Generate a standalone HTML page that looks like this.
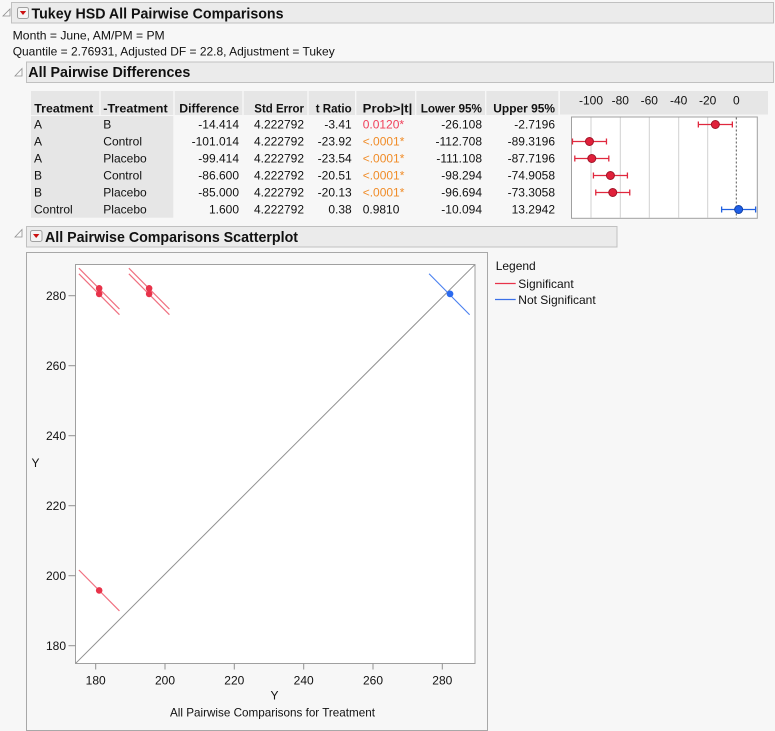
<!DOCTYPE html>
<html><head><meta charset="utf-8"><style>
html,body{margin:0;padding:0;background:#f7f7f7;width:775px;height:731px;overflow:hidden}
svg{display:block}
text{font-family:"Liberation Sans",Arial,sans-serif;fill:#111}
.b{font-weight:bold}
</style></head><body>
<svg width="775" height="731" viewBox="0 0 775 731" xmlns="http://www.w3.org/2000/svg">
<rect width="775" height="731" fill="#f7f7f7"/>
<!-- Title bar -->
<rect x="11.5" y="2.5" width="762" height="20.5" fill="#ebebeb" stroke="#c0c0c0"/>
<polygon points="10,9 10,16 3,16" fill="#fafafa" stroke="#909090" stroke-width="0.8"/>
<rect x="17.5" y="7.5" width="11" height="11" rx="2" fill="#f4f4f4" stroke="#a0a0a0"/>
<polygon points="19.8,11 26.2,11 23,15" fill="#cc1111"/>
<text x="31.5" y="18.5" class="b" font-size="15" textLength="252" lengthAdjust="spacingAndGlyphs">Tukey HSD All Pairwise Comparisons</text>
<text x="12.7" y="39.5" font-size="12" textLength="152" lengthAdjust="spacingAndGlyphs">Month = June, AM/PM = PM</text>
<text x="12.7" y="55.5" font-size="12" textLength="322" lengthAdjust="spacingAndGlyphs">Quantile = 2.76931, Adjusted DF = 22.8, Adjustment = Tukey</text>
<!-- All pairwise differences bar -->
<rect x="26.5" y="62" width="747" height="20.5" fill="#ebebeb" stroke="#c0c0c0"/>
<polygon points="22,68.5 22,76 15,76" fill="#fafafa" stroke="#909090" stroke-width="0.8"/>
<text x="28.3" y="77" class="b" font-size="15" textLength="162" lengthAdjust="spacingAndGlyphs">All Pairwise Differences</text>
<!-- table header -->
<g fill="#e6e6e6">
<rect x="31" y="91" width="68.3" height="24"/>
<rect x="100.7" y="91" width="72.6" height="24"/>
<rect x="174.7" y="91" width="67.6" height="24"/>
<rect x="243.7" y="91" width="63.6" height="24"/>
<rect x="308.7" y="91" width="46.3" height="24"/>
<rect x="356.4" y="91" width="58.6" height="24"/>
<rect x="416.4" y="91" width="68.6" height="24"/>
<rect x="486.4" y="91" width="71.9" height="24"/>
<rect x="560" y="91" width="208" height="23.5"/>
<rect x="31" y="116" width="142.3" height="101.7"/>
</g>
<g font-size="12" class="b">
<text x="34.3" y="112.5" class="b" textLength="59" lengthAdjust="spacingAndGlyphs">Treatment</text>
<text x="103.3" y="112.5" class="b" textLength="64.4" lengthAdjust="spacingAndGlyphs">-Treatment</text>
<text x="179.3" y="112.5" class="b" textLength="59.7" lengthAdjust="spacingAndGlyphs">Difference</text>
<text x="254.3" y="112.5" class="b" textLength="49.7" lengthAdjust="spacingAndGlyphs">Std Error</text>
<text x="315.7" y="112.5" class="b" textLength="36" lengthAdjust="spacingAndGlyphs">t Ratio</text>
<text x="362.7" y="112.5" class="b" textLength="49.6" lengthAdjust="spacingAndGlyphs">Prob&gt;|t|</text>
<text x="420.7" y="112.5" class="b" textLength="61.3" lengthAdjust="spacingAndGlyphs">Lower 95%</text>
<text x="493.3" y="112.5" class="b" textLength="61.7" lengthAdjust="spacingAndGlyphs">Upper 95%</text>
</g>
<!-- table body -->
<g font-size="12">
<text x="34" y="128.5">A</text><text x="103.3" y="128.5">B</text>
<text x="34" y="145.5">A</text><text x="103.3" y="145.5">Control</text>
<text x="34" y="162.5">A</text><text x="103.3" y="162.5">Placebo</text>
<text x="34" y="179.5">B</text><text x="103.3" y="179.5">Control</text>
<text x="34" y="196.5">B</text><text x="103.3" y="196.5">Placebo</text>
<text x="34" y="213.5">Control</text><text x="103.3" y="213.5">Placebo</text>
<g text-anchor="end">
<text x="239" y="128.5">-14.414</text><text x="239" y="145.5">-101.014</text><text x="239" y="162.5">-99.414</text><text x="239" y="179.5">-86.600</text><text x="239" y="196.5">-85.000</text><text x="239" y="213.5">1.600</text>
<text x="304" y="128.5">4.222792</text><text x="304" y="145.5">4.222792</text><text x="304" y="162.5">4.222792</text><text x="304" y="179.5">4.222792</text><text x="304" y="196.5">4.222792</text><text x="304" y="213.5">4.222792</text>
<text x="351.7" y="128.5">-3.41</text><text x="351.7" y="145.5">-23.92</text><text x="351.7" y="162.5">-23.54</text><text x="351.7" y="179.5">-20.51</text><text x="351.7" y="196.5">-20.13</text><text x="351.7" y="213.5">0.38</text>
<text x="482" y="128.5">-26.108</text><text x="482" y="145.5">-112.708</text><text x="482" y="162.5">-111.108</text><text x="482" y="179.5">-98.294</text><text x="482" y="196.5">-96.694</text><text x="482" y="213.5">-10.094</text>
<text x="555" y="128.5">-2.7196</text><text x="555" y="145.5">-89.3196</text><text x="555" y="162.5">-87.7196</text><text x="555" y="179.5">-74.9058</text><text x="555" y="196.5">-73.3058</text><text x="555" y="213.5">13.2942</text>
</g>
<text x="362.7" y="128.5" style="fill:#f0405a">0.0120*</text>
<text x="362.7" y="145.5" style="fill:#f08c28">&lt;.0001*</text>
<text x="362.7" y="162.5" style="fill:#f08c28">&lt;.0001*</text>
<text x="362.7" y="179.5" style="fill:#f08c28">&lt;.0001*</text>
<text x="362.7" y="196.5" style="fill:#f08c28">&lt;.0001*</text>
<text x="362.7" y="213.5">0.9810</text>
</g>
<!-- small difference chart -->
<g font-size="12" text-anchor="middle">
<text x="591" y="104.5">-100</text><text x="620.3" y="104.5">-80</text><text x="649.3" y="104.5">-60</text><text x="678.7" y="104.5">-40</text><text x="707.7" y="104.5">-20</text><text x="736.3" y="104.5">0</text>
</g>
<rect x="571.5" y="117" width="185.8" height="101.3" fill="#fff" stroke="#a0a0a0"/>
<g stroke="#d0d0d0" stroke-width="1">
<line x1="591" y1="117.5" x2="591" y2="218"/><line x1="620.3" y1="117.5" x2="620.3" y2="218"/><line x1="649.3" y1="117.5" x2="649.3" y2="218"/><line x1="678.7" y1="117.5" x2="678.7" y2="218"/><line x1="707.7" y1="117.5" x2="707.7" y2="218"/>
</g>
<line x1="736.3" y1="117.5" x2="736.3" y2="218" stroke="#555" stroke-dasharray="2,2"/>
<g stroke="#e0283e" stroke-width="1.3" fill="none">
<path d="M698.35 124.5H732.35M698.35 121.5V127.5M732.35 121.5V127.5"/>
<path d="M572.48 141.5H606.47M572.48 138.5V144.5M606.47 138.5V144.5"/>
<path d="M574.8 158.5H608.8M574.8 155.5V161.5M608.8 155.5V161.5"/>
<path d="M593.43 175.5H627.42M593.43 172.5V178.5M627.42 172.5V178.5"/>
<path d="M595.76 192.5H629.75M595.76 189.5V195.5M629.75 189.5V195.5"/>
</g>
<path d="M721.63 209.5H755.62M721.63 206.5V212.5M755.62 206.5V212.5" stroke="#2060e0" stroke-width="1.3" fill="none"/>
<g fill="#e0203a" stroke="#a01428" stroke-width="1">
<circle cx="715.35" cy="124.5" r="4"/><circle cx="589.48" cy="141.5" r="4"/><circle cx="591.8" cy="158.5" r="4"/><circle cx="610.43" cy="175.5" r="4"/><circle cx="612.75" cy="192.5" r="4"/>
</g>
<circle cx="738.63" cy="209.5" r="4" fill="#1f5fe6" stroke="#1040a8"/>
<!-- Scatterplot bar -->
<rect x="26.5" y="226.5" width="590.5" height="20.5" fill="#ebebeb" stroke="#c0c0c0"/>
<polygon points="22,229.5 22,237 15,237" fill="#fafafa" stroke="#909090" stroke-width="0.8"/>
<rect x="30.5" y="230.5" width="11.5" height="11" rx="2" fill="#f4f4f4" stroke="#a0a0a0"/>
<polygon points="33,234 39.4,234 36.2,238" fill="#cc1111"/>
<text x="45" y="242" class="b" font-size="15" textLength="253" lengthAdjust="spacingAndGlyphs">All Pairwise Comparisons Scatterplot</text>
<!-- scatter panel -->
<rect x="26.5" y="252.5" width="461" height="478" fill="#f7f7f7" stroke="#a8a8a8"/>
<rect x="75.5" y="264.5" width="399.5" height="399" fill="#fff" stroke="#a0a0a0"/>
<line x1="75.8" y1="663.2" x2="474.7" y2="264.8" stroke="#909090" stroke-width="1"/>
<!-- y ticks -->
<g stroke="#909090">
<line x1="68.5" y1="645.7" x2="75.5" y2="645.7"/><line x1="68.5" y1="575.7" x2="75.5" y2="575.7"/><line x1="68.5" y1="505.7" x2="75.5" y2="505.7"/><line x1="68.5" y1="435.7" x2="75.5" y2="435.7"/><line x1="68.5" y1="365.7" x2="75.5" y2="365.7"/><line x1="68.5" y1="295.7" x2="75.5" y2="295.7"/>
<line x1="95.7" y1="663.5" x2="95.7" y2="669.5"/><line x1="165" y1="663.5" x2="165" y2="669.5"/><line x1="234.3" y1="663.5" x2="234.3" y2="669.5"/><line x1="303.7" y1="663.5" x2="303.7" y2="669.5"/><line x1="373" y1="663.5" x2="373" y2="669.5"/><line x1="442.3" y1="663.5" x2="442.3" y2="669.5"/>
</g>
<g font-size="12" text-anchor="end">
<text x="66" y="650">180</text><text x="66" y="580">200</text><text x="66" y="510">220</text><text x="66" y="440">240</text><text x="66" y="370">260</text><text x="66" y="300">280</text>
</g>
<g font-size="12" text-anchor="middle">
<text x="95.7" y="684.5">180</text><text x="165" y="684.5">200</text><text x="234.3" y="684.5">220</text><text x="303.7" y="684.5">240</text><text x="373" y="684.5">260</text><text x="442.3" y="684.5">280</text>
<text x="274.5" y="699.5">Y</text>
<text x="272.5" y="716.5" textLength="205" lengthAdjust="spacingAndGlyphs">All Pairwise Comparisons for Treatment</text>
</g>
<text x="31.5" y="467" font-size="12">Y</text>
<!-- scatter lines -->
<g stroke="#f07080" stroke-width="1.2">
<line x1="78.9" y1="268.2" x2="119.44" y2="309.1"/>
<line x1="78.9" y1="273.8" x2="119.44" y2="314.7"/>
<line x1="128.86" y1="268.2" x2="169.4" y2="309.1"/>
<line x1="128.86" y1="273.8" x2="169.4" y2="314.7"/>
<line x1="78.9" y1="570" x2="119.44" y2="610.9"/>
</g>
<line x1="429.08" y1="273.8" x2="469.62" y2="314.7" stroke="#4a80f0" stroke-width="1.1"/>
<g fill="#e8334a">
<circle cx="99.17" cy="288.3" r="3.3"/><circle cx="99.17" cy="293.9" r="3.3"/>
<circle cx="149.13" cy="288.3" r="3.3"/><circle cx="149.13" cy="293.9" r="3.3"/>
<circle cx="99.17" cy="590.4" r="3.3"/>
</g>
<circle cx="450" cy="293.9" r="3.4" fill="#2a6af0"/>
<!-- legend -->
<text x="495.7" y="270" font-size="12">Legend</text>
<line x1="495" y1="283.5" x2="515.7" y2="283.5" stroke="#e8334a" stroke-width="1.2"/>
<text x="518.3" y="287.8" font-size="12">Significant</text>
<line x1="495" y1="299.5" x2="515.7" y2="299.5" stroke="#3a70e8" stroke-width="1.2"/>
<text x="518.3" y="303.8" font-size="12">Not Significant</text>
</svg>
</body></html>
